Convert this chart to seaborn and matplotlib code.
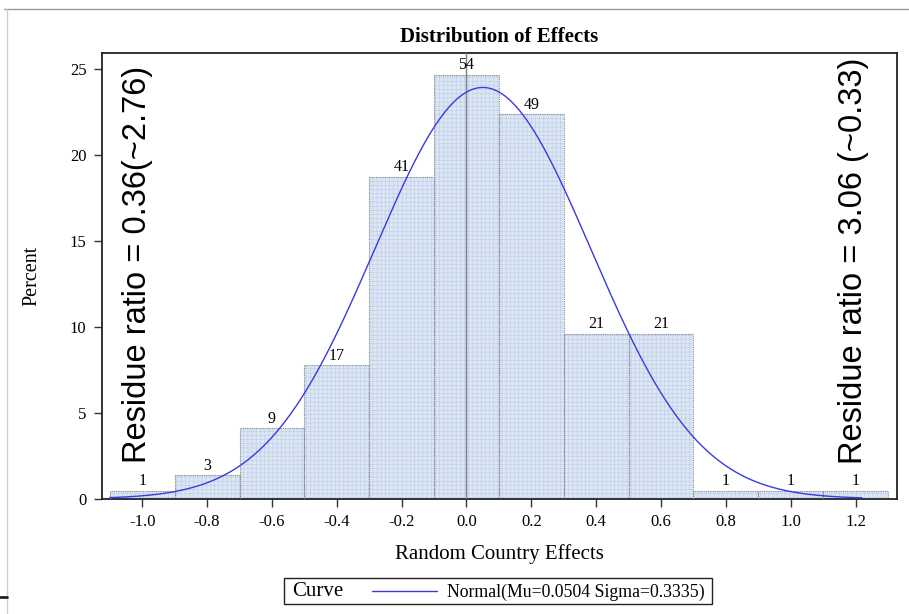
import numpy as np
import pandas as pd
import matplotlib
matplotlib.use("Agg")
import matplotlib.pyplot as plt
from matplotlib.lines import Line2D
from matplotlib.patches import Rectangle
import seaborn as sns

# Histogram of random country effects (bin midpoints, counts)
midpoints = [-1.0, -0.8, -0.6, -0.4, -0.2, 0.0, 0.2, 0.4, 0.6, 0.8, 1.0, 1.2]
counts = [1, 3, 9, 17, 41, 54, 49, 21, 21, 1, 1, 1]
bin_width = 0.2

# Fitted normal curve parameters
mu = 0.0504
sigma = 0.3335

x_ticks = [-1.0, -0.8, -0.6, -0.4, -0.2, 0.0, 0.2, 0.4, 0.6, 0.8, 1.0, 1.2]
y_ticks = [0, 5, 10, 15, 20, 25]

left_note = "Residue ratio = 0.36(~2.76)"
right_note = "Residue ratio = 3.06 (~0.33)"
legend_title = "Curve"
legend_label = "Normal(Mu=0.0504 Sigma=0.3335)"

total = sum(counts)
percent = [100.0 * c / total for c in counts]
df = pd.DataFrame({"effect": midpoints, "percent": percent, "count": counts})

sns.set_style("ticks")
plt.rcParams["font.family"] = ["Liberation Serif", "DejaVu Serif"]
plt.rcParams["hatch.linewidth"] = 0.5
plt.rcParams["axes.unicode_minus"] = False
plt.rcParams["text.color"] = "black"
plt.rcParams["axes.labelcolor"] = "black"
plt.rcParams["xtick.labelcolor"] = "black"
plt.rcParams["ytick.labelcolor"] = "black"

fig = plt.figure(figsize=(9.09, 6.14), dpi=100)
ax = fig.add_axes([0.1119, 0.1878, 0.8749, 0.7259])

edges = [round(midpoints[0] - bin_width / 2 + i * bin_width, 6)
         for i in range(len(midpoints) + 1)]

# Filled bars with a fine grid pattern
sns.histplot(data=df, x="effect", weights="percent", bins=edges, ax=ax,
             color="#dce6f3", alpha=1.0, linewidth=0, stat="count")
for p in ax.patches:
    p.set_hatch("++++")
    p.set_edgecolor("#bfd1ea")
    p.set_linewidth(0)
    p.set_facecolor("#dde7f4")

# Dotted gray outlines on top
for m, pc in zip(midpoints, percent):
    ax.bar(m, pc, width=bin_width, fill=False, edgecolor="#8a8a8a",
           linewidth=0.8, linestyle=(0, (1, 1)), zorder=3)

# Reference line at zero
ax.axvline(0.0, color="#808080", linewidth=1.0, zorder=4)

# Normal density scaled to percent per bin
xs = np.linspace(-1.1, 1.22, 300)
ys = 100 * bin_width / (sigma * np.sqrt(2 * np.pi)) * np.exp(-0.5 * ((xs - mu) / sigma) ** 2)
sns.lineplot(x=xs, y=ys, ax=ax, color="#3a3ade", linewidth=1.0, zorder=5)

# Count labels above bars
for m, pc, c in zip(midpoints, percent, counts):
    ax.text(m, pc + 0.32, str(c), ha="center", va="baseline", fontsize=11.5,
            color="black", zorder=6)

ax.set_xlim(-1.125, 1.328)
ax.set_ylim(0, 25.93)
ax.set_xticks(x_ticks)
ax.set_xticklabels([f"{t:.1f}" for t in x_ticks])
ax.set_yticks(y_ticks)
ax.set_yticklabels([str(t) for t in y_ticks])
ax.tick_params(axis="both", labelsize=12, length=6, width=1.0, color="#333333",
               pad=5)
for s in ax.spines.values():
    s.set_visible(True)
    s.set_color("#222222")
    s.set_linewidth(1.3)

ax.set_xlabel("Random Country Effects", fontsize=15, labelpad=10)
ax.set_ylabel("Percent", fontsize=14.5, labelpad=20)
ax.set_title("Distribution of Effects", fontsize=15, fontweight="bold", pad=8)

# Rotated annotations inside the plot
ax.text(0.0444, 0.5266, left_note, transform=ax.transAxes, rotation=90,
        ha="center", va="center", fontsize=23.5, family="Liberation Sans",
        color="black", zorder=7)
ax.text(0.9447, 0.533, right_note, transform=ax.transAxes, rotation=90,
        ha="center", va="center", fontsize=23.5, family="Liberation Sans",
        color="black", zorder=7)

# Legend box below the axes
W, H = 909.0, 614.0
fig.add_artist(Rectangle((284 / W, 1 - 604 / H), (712 - 284) / W, (604 - 578) / H,
                         transform=fig.transFigure, fill=False,
                         edgecolor="#222222", linewidth=1.0))
fig.text(292 / W, 1 - 592 / H, legend_title, ha="left", va="center", fontsize=15)
fig.add_artist(Line2D([372 / W, 437 / W], [1 - 591 / H, 1 - 591 / H],
                      color="#3a3ade", linewidth=1.0, transform=fig.transFigure))
fig.text(447 / W, 1 - 592 / H, legend_label, ha="left", va="center", fontsize=12.8)

# Page border lines
fig.add_artist(Line2D([4 / W, 1.0], [1 - 9 / H, 1 - 9 / H],
                      color="#9a9a9a", linewidth=1.0, transform=fig.transFigure))
fig.add_artist(Line2D([7 / W, 7 / W], [0.0, 1 - 9 / H],
                      color="#d0d0d0", linewidth=1.0, transform=fig.transFigure))
fig.add_artist(Line2D([0.0, 7 / W], [1 - 597 / H, 1 - 597 / H],
                      color="#222222", linewidth=2.0, transform=fig.transFigure))

fig.savefig("out.png", dpi=100)
